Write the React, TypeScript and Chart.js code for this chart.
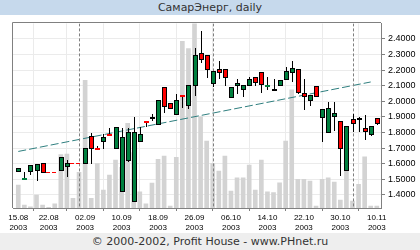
import React, { useEffect, useRef } from 'react';
import { Chart, registerables } from 'chart.js';

Chart.register(...registerables);

// ---- data ----
const dates = [
  '15.08.2003', '18.08.2003', '19.08.2003', '20.08.2003', '21.08.2003', '22.08.2003', '25.08.2003', '26.08.2003',
  '27.08.2003', '28.08.2003', '01.09.2003', '02.09.2003', '03.09.2003', '04.09.2003', '05.09.2003', '08.09.2003',
  '09.09.2003', '10.09.2003', '11.09.2003', '12.09.2003', '15.09.2003', '16.09.2003', '17.09.2003', '18.09.2003',
  '19.09.2003', '22.09.2003', '23.09.2003', '24.09.2003', '25.09.2003', '26.09.2003', '29.09.2003', '30.09.2003',
  '01.10.2003', '02.10.2003', '03.10.2003', '06.10.2003', '07.10.2003', '08.10.2003', '09.10.2003', '10.10.2003',
  '13.10.2003', '14.10.2003', '15.10.2003', '16.10.2003', '17.10.2003', '20.10.2003', '21.10.2003', '22.10.2003',
  '23.10.2003', '24.10.2003', '27.10.2003', '28.10.2003', '29.10.2003', '30.10.2003', '31.10.2003', '03.11.2003',
  '04.11.2003', '05.11.2003', '06.11.2003', '10.11.2003',
];

const opens: (number | null)[] = [
  1.550, 1.506, 1.550, 1.556, 1.603, null, null, 1.556, 1.582, null,
  null, 1.603, 1.776, 1.700, 1.748, 1.790, 1.699, 1.421, 1.624, 1.357,
  1.748, 1.875, 1.896, 1.853, 2.094, 1.988, 1.917, 2.043, 1.973, 2.103,
  2.308, 2.297, 2.116, 2.206, 2.206, 2.026, 2.103, 2.077, 2.103, 2.154,
  2.186, 2.102, 2.082, 2.103, 2.146, 2.191, 2.206, 2.052, 2.007, 2.099,
  1.902, 1.802, 1.904, 1.872, 1.556, 1.887, 1.893, 1.829, 1.789, 1.891,
];
const highs: (number | null)[] = [
  1.571, 1.545, 1.590, 1.597, 1.603, null, null, 1.644, 1.620, null,
  null, 1.699, 1.795, 1.714, 1.789, 1.827, 1.834, 1.827, 1.827, 1.898,
  1.838, 1.875, 1.917, 2.007, 2.094, 1.988, 2.047, 2.043, 2.103, 2.340,
  2.451, 2.297, 2.195, 2.259, 2.206, 2.094, 2.141, 2.103, 2.159, 2.154,
  2.186, 2.154, 2.141, 2.135, 2.223, 2.259, 2.206, 2.144, 2.039, 2.099,
  1.949, 1.996, 1.996, 1.872, 1.842, 1.917, 1.896, 1.911, 1.840, 1.891,
];
const lows: (number | null)[] = [
  1.550, 1.500, 1.535, 1.496, 1.545, null, null, 1.556, 1.518, null,
  null, 1.603, 1.603, 1.699, 1.703, 1.789, 1.699, 1.421, 1.618, 1.357,
  1.748, 1.842, 1.881, 1.853, 1.934, 1.956, 1.917, 1.966, 1.960, 2.041,
  2.255, 2.154, 2.101, 2.148, 2.103, 2.026, 2.052, 2.037, 2.103, 2.103,
  2.058, 2.077, 2.082, 2.103, 2.146, 2.131, 2.052, 1.953, 1.973, 2.032,
  1.742, 1.802, 1.817, 1.530, 1.556, 1.810, 1.810, 1.755, 1.782, 1.853,
];
const closes: (number | null)[] = [
  1.571, 1.508, 1.590, 1.597, 1.545, null, null, 1.644, 1.603, null,
  null, 1.699, 1.699, 1.699, 1.772, 1.789, 1.834, 1.770, 1.802, 1.802,
  1.789, 1.874, 1.896, 2.007, 1.971, 1.956, 2.007, 2.032, 2.103, 2.297,
  2.274, 2.206, 2.195, 2.186, 2.154, 2.094, 2.116, 2.103, 2.146, 2.122,
  2.109, 2.104, 2.082, 2.135, 2.195, 2.212, 2.058, 2.032, 2.039, 2.032,
  1.949, 1.956, 1.924, 1.699, 1.842, 1.859, 1.893, 1.810, 1.840, 1.859,
];
// relative volume (0..100 = full plot height)
const volumes = [
  12.4, 1.6, 0.7, 7.0, 1.6, 0.4, 2.2, 29.0, 29.2, 5.2,
  19.3, 69.2, 5.2, 24.1, 9.7, 17.8, 26.0, 22.0, 45.8, 30.0,
  8.8, 2.2, 13.5, 26.3, 28.1, 1.0, 27.4, 90.3, 86.3, 110.0,
  49.4, 36.2, 24.1, 20.0, 28.1, 9.2, 16.4, 16.4, 23.2, 9.7,
  26.0, 8.8, 8.3, 13.7, 36.2, 64.0, 15.5, 15.5, 14.6, 1.0,
  15.5, 16.4, 14.0, 4.3, 22.0, 3.8, 12.8, 27.7, 1.0, 1.0,
];
const tickIndex = [0, 5, 11, 17, 23, 29, 35, 41, 47, 53, 59];
const trendIdx = [0, 58];
const trendVals = [1.678, 2.124];

const TITLE = 'СамарЭнерг, daily';
const FOOTER = '© 2000-2002, Profit House - www.PHnet.ru';

const GREEN = '#00803F';
const RED = '#FF0000';
const FRAME = '#808080';

const candlePlugin = {
  id: 'candles',
  afterDatasetsDraw(chart: any) {
    const { ctx, chartArea: a } = chart;
    const xs = chart.scales.x;
    const ys = chart.scales.y;
    const px = (i: number) => Math.round(xs.getPixelForValue(i));
    const py = (v: number) => Math.round(ys.getPixelForValue(v));
    ctx.save();
    // frame top & left
    ctx.strokeStyle = FRAME;
    ctx.lineWidth = 1;
    ctx.beginPath();
    ctx.moveTo(Math.round(a.left) - 0.5, Math.round(a.bottom));
    ctx.lineTo(Math.round(a.left) - 0.5, Math.round(a.top) - 0.5);
    ctx.lineTo(Math.round(a.right), Math.round(a.top) - 0.5);
    ctx.stroke();

    ctx.beginPath();
    ctx.rect(a.left, a.top, a.right - a.left, a.bottom - a.top);
    ctx.clip();

    // month separators
    ctx.setLineDash([3, 2]);
    ctx.strokeStyle = FRAME;
    for (let i = 1; i < dates.length; i++) {
      if (dates[i].slice(3, 5) !== dates[i - 1].slice(3, 5)) {
        const x = px(i) + 0.5;
        ctx.beginPath();
        ctx.moveTo(x, a.top);
        ctx.lineTo(x, a.bottom);
        ctx.stroke();
      }
    }

    // gaps (no trades): dashed red line at previous close
    ctx.strokeStyle = RED;
    ctx.setLineDash([4, 2]);
    for (let i = 1; i < dates.length; i++) {
      if (opens[i] == null && opens[i - 1] != null) {
        let j = i;
        while (j + 1 < dates.length && opens[j + 1] == null) j++;
        const x1 = px(i - 1) + 3;
        const x2 = j + 1 < dates.length ? px(j + 1) - 3 : px(j) + 3;
        const y = py(closes[i - 1] as number) + 0.5;
        ctx.beginPath();
        ctx.moveTo(x1, y);
        ctx.lineTo(x2, y);
        ctx.stroke();
      }
    }
    ctx.setLineDash([]);

    // candles
    for (let i = 0; i < dates.length; i++) {
      const o = opens[i];
      const c = closes[i];
      const h = highs[i];
      const l = lows[i];
      if (o == null || c == null || h == null || l == null) continue;
      const cx = px(i);
      const yo = py(o);
      const yc = py(c);
      const yh = py(h);
      const yl = py(l);
      const color = c > o ? GREEN : c < o ? RED : '#000000';
      ctx.fillStyle = '#000000';
      ctx.fillRect(cx, yh, 1, Math.max(1, yl - yh + 1));
      if (Math.abs(yo - yc) <= 1) {
        ctx.fillStyle = color;
        ctx.fillRect(cx - 2, Math.min(yo, yc), 5, 2);
      } else {
        const top = Math.min(yo, yc);
        const bot = Math.max(yo, yc);
        ctx.fillStyle = color;
        ctx.fillRect(cx - 2, top, 5, bot - top + 1);
        ctx.strokeStyle = '#000000';
        ctx.lineWidth = 1;
        ctx.strokeRect(cx - 1.5, top + 0.5, 4, bot - top);
      }
    }
    ctx.restore();
  },
};

export default function App() {
  const ref = useRef<HTMLCanvasElement>(null);

  useEffect(() => {
    if (!ref.current) return;
    const chart = new Chart(ref.current, {
      type: 'bar',
      data: {
        datasets: [
          {
            type: 'bar',
            label: 'volume',
            data: volumes.map((v, i) => ({ x: i, y: v })),
            yAxisID: 'yv',
            backgroundColor: '#D3D3D3',
            borderWidth: 0,
            barThickness: 4,
            order: 2,
          } as any,
          {
            type: 'line',
            label: 'trend',
            data: trendIdx.map((x, k) => ({ x, y: trendVals[k] })),
            yAxisID: 'y',
            borderColor: '#2F7F7F',
            borderWidth: 1,
            borderDash: [8, 3],
            pointRadius: 0,
            fill: false,
            order: 1,
          } as any,
        ],
      },
      options: {
        animation: false,
        responsive: false,
        devicePixelRatio: 1,
        events: [],
        layout: { padding: { top: 8, left: 13, right: 0, bottom: 0 } },
        plugins: { legend: { display: false }, tooltip: { enabled: false }, title: { display: false } },
        scales: {
          x: {
            type: 'linear',
            min: -0.87,
            max: 59.69,
            offset: false,
            afterBuildTicks: (s: any) => {
              s.ticks = tickIndex.map((v) => ({ value: v }));
            },
            afterFit: (s: any) => {
              s.height = 25;
            },
            ticks: {
              autoSkip: false,
              maxRotation: 0,
              padding: 2,
              color: '#000000',
              font: { family: '"Liberation Sans", Arial, sans-serif', size: 8, lineHeight: 1.25 },
              callback: (v: any) => {
                const d = dates[Math.round(v)];
                return d ? [d.slice(0, 5), d.slice(6)] : null;
              },
            },
            grid: { color: '#EBEBEB', tickLength: 3, tickColor: FRAME, drawTicks: true },
            border: { color: FRAME, width: 1 },
          },
          y: {
            type: 'linear',
            position: 'right',
            min: 1.315,
            max: 2.5,
            afterFit: (s: any) => {
              s.width = 39;
            },
            ticks: {
              stepSize: 0.1,
              includeBounds: false,
              padding: 3,
              color: '#000000',
              font: { family: '"Liberation Sans", Arial, sans-serif', size: 9 },
              callback: (v: any) => (v > 2.45 || v < 1.35 ? null : Number(v).toFixed(4)),
            },
            grid: { color: '#EBEBEB', tickLength: 4, tickColor: FRAME },
            border: { color: FRAME, width: 1 },
          },
          yv: {
            type: 'linear',
            display: false,
            min: 0,
            max: 100,
          },
        },
      } as any,
      plugins: [candlePlugin],
    });
    return () => chart.destroy();
  }, []);

  return (
    <div style={{ position: 'absolute', left: 0, top: 0, width: 420, height: 250, background: '#ffffff', overflow: 'hidden' }}>
      <div
        style={{
          position: 'absolute', left: 0, top: 0, width: 420, height: 15, background: '#C6D9EC',
          font: '11px "DejaVu Sans", sans-serif', lineHeight: '15px', textAlign: 'center', color: '#333333',
        }}
      >
        {TITLE}
      </div>
      <div style={{ position: 'absolute', left: 0, top: 15, width: 420, height: 218 }}>
        <canvas ref={ref} width={420} height={218} style={{ display: 'block' }} />
      </div>
      <div
        style={{
          position: 'absolute', left: 0, top: 233, width: 420, height: 17, background: '#EEEEEE',
          font: '11px "DejaVu Sans", sans-serif', lineHeight: '17px', textAlign: 'center', color: '#333333',
        }}
      >
        {FOOTER}
      </div>
    </div>
  );
}
